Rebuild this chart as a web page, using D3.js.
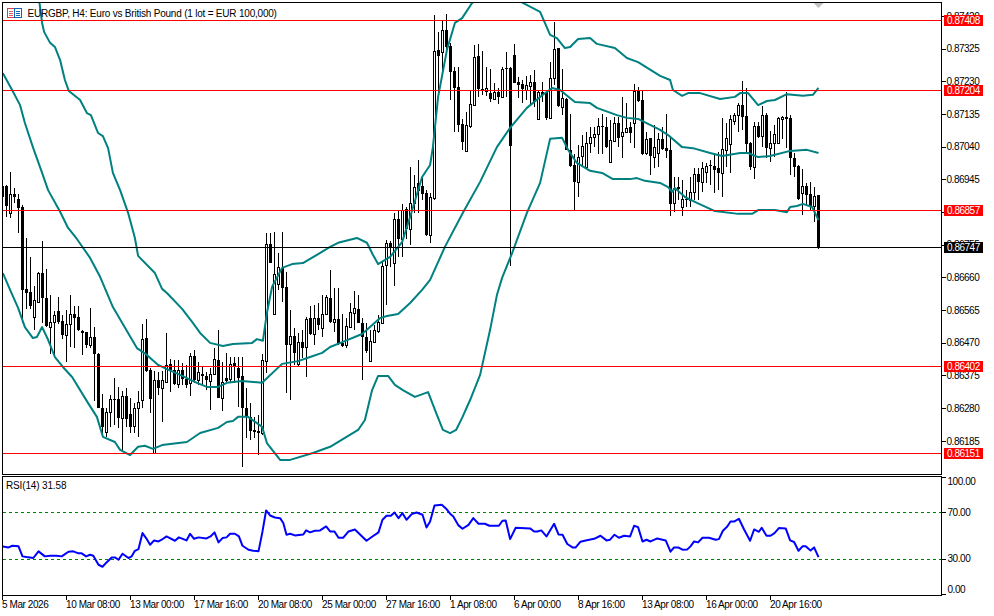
<!DOCTYPE html>
<html><head><meta charset="utf-8">
<script src="https://cdn.jsdelivr.net/npm/d3@7"></script>
<style>
html,body{margin:0;padding:0;background:#fff}
svg{display:block}
text{font-family:"Liberation Sans",Arial,sans-serif;font-size:10px;fill:#000}
</style></head><body><svg id="c" width="994" height="616"></svg>
<script>
// Prices are stored as points above the base price (1 point = 0.00001)
const basePrice = 0.86, point = 0.00001;
const opens = [927,927,849,904,889,866,628,619,546,590,674,602,517,532,564,535,494,526,555,546,506,503,465,488,439,282,212,270,308,308,253,317,264,230,282,305,485,392,151,363,340,358,410,392,352,392,366,355,433,363,381,375,360,381,421,311,369,366,413,398,375,282,256,218,215,209,418,759,555,642,689,634,468,491,410,474,459,543,497,543,514,555,602,532,541,471,465,517,558,570,529,488,418,474,506,529,697,761,703,831,773,860,802,878,936,927,907,785,892,1322,1316,1380,1334,1261,1215,1107,1029,1101,1162,1305,1209,1203,1197,1180,1200,1186,1270,1270,1308,1229,1224,1206,1218,1229,1122,1200,1200,1125,1241,1328,1157,1180,1032,988,939,1014,982,1052,1069,1078,1101,1098,997,1058,1110,1072,1084,1098,1110,1203,1177,1023,1067,1011,1023,1064,1037,1032,878,924,866,889,886,910,962,939,968,988,985,979,965,1032,1049,1116,1133,1162,1130,1052,982,1101,1072,1133,1037,1052,1052,1122,1128,1125,1008,985,907,927,904,869,901];
const highs = [930,930,968,921,904,872,776,721,636,677,767,686,610,564,605,552,567,610,578,578,509,503,573,517,442,323,282,320,369,343,331,340,311,296,331,526,541,398,389,387,389,500,424,421,421,413,407,442,450,416,401,387,398,456,509,416,442,430,430,430,430,340,296,256,262,439,790,790,793,732,793,677,567,514,500,509,546,578,581,587,610,610,683,631,631,555,543,587,622,610,543,529,509,523,552,706,770,767,849,857,875,866,982,959,1003,953,915,907,1424,1375,1409,1427,1343,1273,1273,1122,1142,1206,1337,1340,1319,1273,1267,1226,1212,1273,1316,1273,1340,1244,1235,1247,1250,1264,1206,1229,1206,1287,1404,1328,1267,1183,1136,1020,1046,1075,1084,1098,1098,1125,1136,1128,1119,1128,1128,1186,1168,1113,1224,1215,1203,1084,1067,1104,1081,1098,1136,1067,953,953,944,915,953,979,979,997,994,1003,1017,1026,1125,1110,1133,1139,1168,1232,1212,1055,1113,1113,1160,1139,1087,1104,1128,1130,1200,1133,1023,988,976,936,939,924,901];
const lows = [886,837,834,878,790,529,570,570,509,590,529,517,439,430,526,482,416,459,456,506,436,456,456,302,282,198,198,227,233,224,160,227,209,209,198,282,387,267,151,320,241,355,328,349,340,349,340,317,355,349,349,334,276,378,311,273,355,355,355,285,110,195,189,195,145,203,384,703,555,625,590,326,305,407,401,427,372,494,465,509,488,552,529,503,465,459,456,514,509,529,363,442,416,471,500,526,581,692,636,721,721,773,756,849,849,886,782,761,886,1183,1244,1314,1177,1084,1084,1032,1029,1096,1160,1186,1191,1189,1171,1177,1165,1183,1186,695,1226,1183,1168,1177,1162,1157,1119,1171,1119,1122,1221,1157,1133,1032,982,857,895,982,982,1023,1040,1020,1020,1037,994,1055,1040,1008,1084,1052,1037,1171,1017,1017,959,979,982,1032,1008,840,852,886,840,866,866,886,886,910,936,930,907,915,895,982,965,1104,1084,1090,1023,974,947,1067,1040,1008,997,1011,1049,1064,1037,959,953,886,843,872,857,822,744];
const closes = [895,869,904,895,863,625,616,578,596,674,602,520,532,552,532,494,526,555,543,509,500,465,488,439,282,227,270,308,308,253,317,250,227,282,299,482,389,308,363,340,363,407,392,352,392,366,349,433,363,387,375,363,381,424,311,358,360,410,401,369,282,256,215,212,209,421,759,703,671,692,631,465,491,442,474,456,541,497,543,523,555,605,532,541,471,462,520,561,573,529,488,448,477,509,532,695,761,750,831,773,857,802,878,924,913,904,785,895,1319,1305,1380,1331,1258,1212,1104,1055,1104,1165,1302,1209,1206,1212,1180,1200,1186,1267,1267,1043,1226,1221,1209,1221,1229,1171,1200,1191,1125,1241,1325,1160,1183,1032,985,939,1011,1043,1052,1069,1078,1101,1098,1040,1061,1110,1067,1084,1096,1081,1203,1174,1020,1064,1014,1040,1064,1035,1029,875,921,918,889,886,910,962,939,979,985,985,974,965,1035,1067,1122,1133,1162,1128,1049,982,1101,1069,1133,1037,1052,1078,1125,1128,1122,1008,982,889,927,901,869,898,747];

const upperBar = [6.9,9.25,9.9,10.4,11.9,13.1,14.4,15.6,16.6,19.4,21.1,22.1,23.9,25.1,26.4,27.6,29.4,31.4,33.1,33.9,38.1,39.9,41.1,44.9,47.4,49.4,51.9,55.1,57.6,62.4,63.6,65.1,66.1,67.4,69.9,72.4,75.1,78.6,81.9,83.9,88.6,91.1,92.6,93.9,96.9,99.9,101.9,104.9,106.9,107.6,108.9,111.1,113.1,114.9,117.4,121.9,126.9,130.1,134.4,135.6,136.9,138.6,140.6,141.9,143.9,146.9,148.6,153.1,156.1,158.9,164.4,166.9,167.6,169.9,171.4,174.4,179.4,183.1,184.4,186.4,188.9,191.1,193.1,196.1,200.1,202.6,204];
const upperBand = [1526,1459,1401,1375,1343,1331,1293,1235,1203,1177,1139,1133,1081,1072,1037,965,915,849,776,724,674,628,616,570,532,500,471,462,468,471,482,477,558,634,689,700,703,727,750,762,776,762,727,700,721,764,837,953,988,1040,1186,1322,1401,1415,1459,1491,1491,1459,1433,1401,1366,1357,1328,1331,1354,1357,1340,1328,1299,1287,1247,1235,1206,1189,1197,1197,1180,1186,1197,1197,1162,1174,1177,1194,1189,1192,1212];
const midBar = [0.1,2.4,4.4,5.6,7.6,9.9,11.4,14.4,16.4,18.6,21.9,24.4,27.6,31.4,33.6,36.1,38.9,41.1,44.4,48.6,51.1,53.9,56.1,59.9,64.9,69.9,73.9,76.9,79.9,81.9,85.1,89.9,94.4,96.1,98.9,101.9,104.9,106.9,110.6,115.1,119.4,123.6,126.9,131.1,135.1,137.4,139.4,143.1,146.9,148.6,153.6,156.1,158.9,164.4,166.4,169.9,172.6,176.9,179.9,184.4,186.4,188.9,191.9,196.9,201.1,204];
const midBand = [1255,1206,1162,1110,1040,965,915,852,805,773,718,663,575,500,456,436,407,395,378,355,343,343,355,360,355,410,418,430,442,459,474,497,543,549,555,587,625,654,750,849,939,1040,1096,1154,1192,1212,1206,1171,1168,1154,1133,1125,1122,1090,1075,1040,1037,1023,1014,1023,1023,1011,1014,1029,1032,1023];
const lowerBar = [0.1,1.9,3.9,5.6,7.6,8.6,9.9,11.4,13.1,15.1,17.4,21.4,23.6,25.1,28.1,29.4,31.9,33.9,35.6,37.6,39.9,46.1,49.4,53.9,56.1,57.6,58.9,61.4,64.9,66.1,69.4,71.9,77.6,81.9,88.9,90.6,92.4,93.9,96.4,98.1,100.1,103.1,106.4,108.6,110.1,111.9,113.4,114.9,116.9,119.4,121.9,123.6,124.9,127.4,131.1,134.4,136.9,139.9,141.4,143.6,146.9,149.9,152.6,156.9,158.6,160.6,164.4,166.4,167.4,168.1,170.6,173.6,178.1,183.9,187.4,188.9,193.1,196.1,196.9,198.6,200.1,202.4,204];
const lowerBand = [674,625,573,517,485,488,517,480,430,401,372,296,256,198,183,160,145,169,172,163,174,183,209,224,241,244,256,256,227,180,131,131,151,169,218,247,334,375,375,349,334,314,328,262,218,209,218,253,305,378,509,610,660,732,849,936,1064,1067,1032,994,971,965,947,947,950,942,936,924,910,921,895,878,854,846,846,857,857,851,866,869,875,866,828];

const rsiBar = [0,1.5,2.5,4,5,6,7.7,9,10.6,11.9,13.5,14.8,16.5,17.7,19,19.8,20.9,21.9,22.7,24,25,26,27.3,28.1,29,30,31.5,32.3,33.1,34,35,35.9,36.9,37.9,39,39.8,41,43.1,44.1,46,46.9,47.9,49,51,52,53,54,55,56,56.9,58.1,59.1,60,61.5,62.7,64,65,65.9,66.9,68.1,69.4,70.2,71,71.9,73.1,75.2,75.9,76.9,78.1,79.4,80.9,81.9,83,84,85.2,86.5,88.1,91,92.3,94,95,96,97.1,98,99,100,101,102.3,103.5,105,106,106.9,108,109.8,111,111.9,112.7,114,115,116.5,117.7,119,120.6,121.7,122.9,124.1,125,125.8,126.9,128.3,131.9,132.9,133.7,134.7,136,137.9,139,140,141.2,142.5,143.3,144.5,145.8,147.9,149.5,151,151.9,153,154.1,155.4,156.9,157.9,158.9,160,161,162,163.7,165.8,167,167.9,168.9,170,171.2,172,172.9,173.9,175,176.6,178.3,179.1,180.1,181.2,182,183,184.1,185.4,186.9,187.9,189.1,189.8,191,192,193,194.1,195.8,196.9,197.9,199,200,200.8,202,202.9,204];
const rsiValue = [40.9,40,41.4,40.9,32.3,31.7,30.9,36.6,32.3,32.9,32.9,32.3,36.3,36.6,34.9,34.9,32.3,33.7,32.9,25.1,23.4,27.1,31.4,31.4,29.4,34.6,30.9,32.3,37.1,38.6,52.3,48,42.3,46,45.1,46.6,49.4,45.7,48.6,46,51.7,47.4,48.6,47.7,49.4,52.9,44.3,48,48.6,51.7,51.7,49.4,41.4,38,37.1,36.6,53.7,71.7,67.4,65.7,65.1,60.9,50.9,51.7,50.3,51.1,54.6,52.9,54.3,54.6,58,53.7,53.7,48.3,48.3,53.7,55.4,45.7,48.9,52.9,63.7,67.1,67.1,70,65.1,69.4,63.7,68.6,70,68,57.1,62.3,76,76.6,72.9,68.9,66.6,58.9,56,59.4,65.1,60.3,60.3,58.6,58.6,58.6,62.9,63.1,47.1,56.9,56.3,53.7,53.7,54.6,49.4,60.3,51.1,50.9,42.9,40,40,44.9,46,47.4,50,46,46.6,50.9,48.3,50,49.4,58.6,57.4,45.1,46.6,45.1,47.7,46,36.3,40,40,38,38.3,40.9,45.1,44.3,48.3,48.3,46.6,47.1,54.3,58,62.3,62.3,64.6,55.4,45.7,55.4,53.4,56.9,50,50,52.3,56.6,56.3,46,44.6,37.1,40.9,40.9,37.4,40,31.7];

const priceTicks = [0.87420,0.87325,0.87230,0.87135,0.87040,0.86945,0.86850,0.86755,0.86660,0.86565,0.86470,0.86375,0.86280,0.86185];
const redLevels = [0.87408,0.87204,0.86857,0.86402,0.86151];
const lastPrice = 0.86747;
const rsiTicks = [100,70,30,0];
const rsiLevels = [70,30];
const timeBars = [0,16,32,48,64,80,96,112,128,144,160,176,192];
const timeLabels = ["5 Mar 2026","10 Mar 08:00","13 Mar 00:00","17 Mar 16:00","20 Mar 08:00","25 Mar 00:00","27 Mar 16:00","1 Apr 08:00","6 Apr 00:00","8 Apr 16:00","13 Apr 08:00","16 Apr 00:00","20 Apr 16:00"];
const titleText = "EURGBP, H4:  Euro vs British Pound (1 lot = EUR 100,000)";
const rsiTitle = "RSI(14) 31.58";

const L=2.5,R=941.5,T=2.5,B=474.5,T2=476.5,B2=595.5;
const svg=d3.select("#c");
const x=d3.scaleLinear().domain([0,204]).range([2.5,818.5]);
const y=d3.scaleLinear().domain([0.87408,0.86151]).range([20.5,453]);
const yR=d3.scaleLinear().domain([0,100]).range([594,477.5]);
const px=p=>basePrice+p*point;

const defs=svg.append("defs");
defs.append("clipPath").attr("id","m").append("rect").attr("x",L+.5).attr("y",T+.5).attr("width",R-L-1).attr("height",B-T-1);
defs.append("clipPath").attr("id","r").append("rect").attr("x",L+.5).attr("y",T2+.5).attr("width",R-L-1).attr("height",B2-T2-1);

const main=svg.append("g").attr("clip-path","url(#m)");
// candles
const bars=d3.range(opens.length);
const cg=main.append("g").attr("shape-rendering","crispEdges");
cg.selectAll("line").data(bars).join("line")
  .attr("x1",d=>x(d)).attr("x2",d=>x(d))
  .attr("y1",d=>y(px(highs[d]))).attr("y2",d=>y(px(lows[d])))
  .attr("stroke","#000").attr("stroke-width",1);
cg.selectAll("rect").data(bars).join("rect")
  .each(function(d){
    const up=closes[d]>opens[d];
    const t=y(px(Math.max(opens[d],closes[d]))),b=y(px(Math.min(opens[d],closes[d])));
    const s=d3.select(this);
    if(up){s.attr("x",x(d)-1).attr("width",2).attr("y",Math.round(t)+.5).attr("height",Math.max(1,Math.round(b-t))).attr("fill","#fff").attr("stroke","#000").attr("stroke-width",1);}
    else{s.attr("x",x(d)-1.5).attr("width",3).attr("y",Math.round(t)).attr("height",Math.max(1,Math.round(b-t))).attr("fill","#000");}
  });
// bands
const lineP=d3.line().x(d=>x(d[0])).y(d=>y(px(d[1])));
[[upperBar,upperBand],[midBar,midBand],[lowerBar,lowerBand]].forEach(([a,b])=>{
  main.append("path").attr("d",lineP(a.map((k,i)=>[k,b[i]]))).attr("fill","none").attr("stroke","#008080").attr("stroke-width",2).attr("stroke-linejoin","round");
});
// levels
main.selectAll("line.lvl").data(redLevels).join("line").attr("class","lvl")
  .attr("x1",L).attr("x2",R).attr("y1",d=>Math.round(y(d)-.5)+.5).attr("y2",d=>Math.round(y(d)-.5)+.5)
  .attr("stroke","#f00").attr("stroke-width",1).attr("shape-rendering","crispEdges");
main.append("line").attr("x1",L).attr("x2",R).attr("y1",Math.round(y(lastPrice)-.5)+.5).attr("y2",Math.round(y(lastPrice)-.5)+.5)
  .attr("stroke","#000").attr("stroke-width",1).attr("shape-rendering","crispEdges");
// marker triangle
const tx=x(204);
main.append("path").attr("d",`M${tx-5},3 L${tx+5},3 L${tx},8 Z`).attr("fill","#c0c0c0");

// RSI
const rsi=svg.append("g").attr("clip-path","url(#r)");
rsi.selectAll("line").data(rsiLevels).join("line")
  .attr("x1",L).attr("x2",R).attr("y1",d=>Math.round(yR(d))+.5).attr("y2",d=>Math.round(yR(d))+.5)
  .attr("stroke","#008000").attr("stroke-dasharray","3,3").attr("shape-rendering","crispEdges");
rsi.append("path").attr("d",d3.line().x(d=>x(d[0])).y(d=>yR(d[1]))(rsiBar.map((k,i)=>[k,rsiValue[i]])))
  .attr("fill","none").attr("stroke","#0000ff").attr("stroke-width",2).attr("stroke-linejoin","round");

// frames
const fr=svg.append("g").attr("fill","none").attr("stroke","#000").attr("shape-rendering","crispEdges");
fr.append("rect").attr("x",L).attr("y",T).attr("width",R-L).attr("height",B-T);
fr.append("rect").attr("x",L).attr("y",T2).attr("width",R-L).attr("height",B2-T2);

// axes
const styleAxis=g=>{g.select(".domain").remove();g.selectAll("line").attr("stroke","#000").attr("shape-rendering","crispEdges");g.selectAll("text").attr("fill","#000").style("font-family",'"Liberation Sans",Arial,sans-serif').style("font-size","10px");};
svg.append("g").attr("transform",`translate(${R},0)`).call(d3.axisRight(y).tickValues(priceTicks).tickFormat(d3.format(".5f")).tickSize(4).tickPadding(1).offset(0)).call(styleAxis).selectAll("text").attr("letter-spacing","-0.48");
svg.append("g").attr("transform",`translate(${R},0)`).call(d3.axisRight(yR).tickValues(rsiTicks).tickFormat(d3.format(".2f")).tickSize(4).tickPadding(2).offset(0)).call(styleAxis)
  .selectAll("text").attr("letter-spacing","-0.45").attr("dy","0.32em").attr("y",d=>d===100?4:d===0?-4.5:0);
const xa=svg.append("g").attr("transform",`translate(0,${B2})`).call(d3.axisBottom(x).tickValues(timeBars).tickFormat((d,i)=>timeLabels[i]).tickSize(4).tickPadding(1).offset(0)).call(styleAxis);
xa.selectAll("text").attr("text-anchor","start").attr("x",-.5).attr("letter-spacing","-0.42");

// price labels
const lab=svg.append("g");
const tag=(v,c)=>{
  const yy=Math.round(y(v)-.5)+.5;
  lab.append("rect").attr("x",944).attr("y",yy-5.5).attr("width",39).attr("height",11).attr("fill",c).attr("shape-rendering","crispEdges");
  lab.append("text").attr("x",947).attr("y",yy).attr("dy","0.35em").attr("letter-spacing","-0.48").style("fill","#fff").text(d3.format(".5f")(v));
};
redLevels.forEach(v=>tag(v,"#f00"));tag(lastPrice,"#000");

// titles and icon
svg.append("text").attr("x",27.5).attr("y",17).attr("letter-spacing","-0.21").text(titleText);
svg.append("text").attr("x",6).attr("y",489).attr("letter-spacing","-0.15").text(rsiTitle);
const ic=svg.append("g").attr("shape-rendering","crispEdges");
ic.append("rect").attr("x",7.5).attr("y",8.5).attr("width",7).attr("height",9).attr("fill","#fff").attr("stroke","#d83c3c");
ic.append("rect").attr("x",14.5).attr("y",8.5).attr("width",7).attr("height",9).attr("fill","#fff").attr("stroke","#1464b4");
[11,13,15].forEach(v=>{ic.append("rect").attr("x",9).attr("y",v).attr("width",4).attr("height",1).attr("fill","#e06060");ic.append("rect").attr("x",16).attr("y",v).attr("width",4).attr("height",1).attr("fill","#1464b4");});
</script></body></html>
